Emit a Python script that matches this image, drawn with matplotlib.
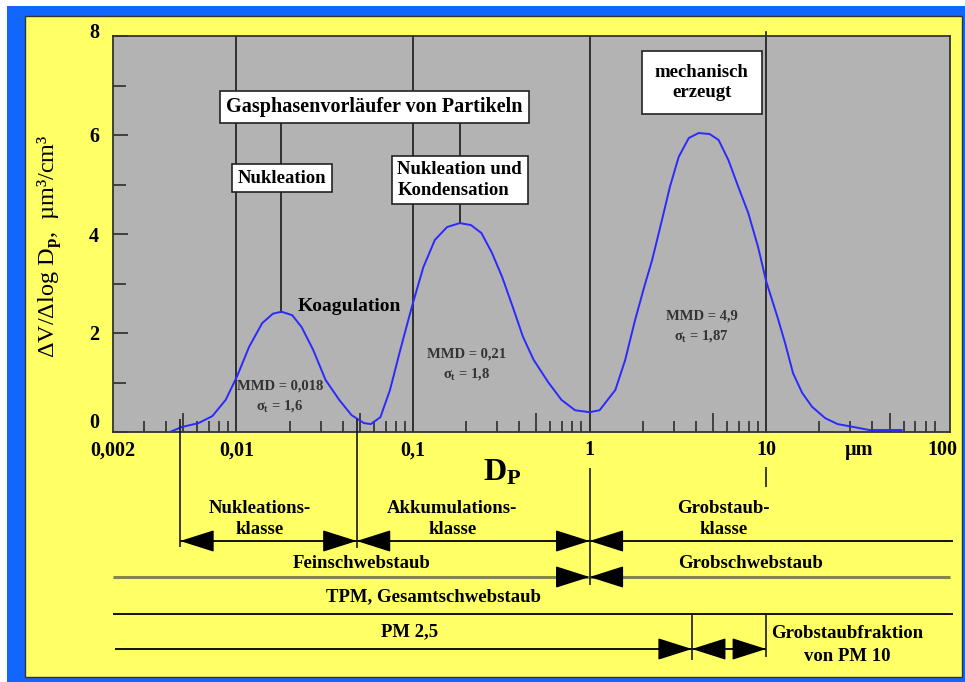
import matplotlib.pyplot as plt
import numpy as np
from matplotlib.patches import Rectangle
from matplotlib.ticker import FixedLocator, NullLocator
from matplotlib.transforms import ScaledTranslation

plt.rcParams['font.family'] = ['Liberation Serif', 'DejaVu Serif']
plt.rcParams['font.weight'] = 'bold'
plt.rcParams['mathtext.fontset'] = 'custom'
plt.rcParams['mathtext.rm'] = 'Liberation Serif:bold'
plt.rcParams['mathtext.it'] = 'Liberation Serif:bold'
plt.rcParams['mathtext.bf'] = 'Liberation Serif:bold'

# volume distribution: Dp in µm, dV/dlogDp in µm³/cm³
dp = [0.0042, 0.0049, 0.0061, 0.0073, 0.0087, 0.0101, 0.0118, 0.0140, 0.0161, 0.0180,
      0.0207, 0.0234, 0.0272, 0.0320, 0.0382, 0.0449, 0.0528, 0.0577, 0.0654, 0.0741,
      0.0839, 0.095, 0.100, 0.1145, 0.133, 0.156, 0.184, 0.213, 0.244, 0.280,
      0.320, 0.367, 0.420, 0.482, 0.582, 0.693, 0.827, 1.0, 1.14, 1.40,
      1.59, 1.81, 2.04, 2.26, 2.57, 2.85, 3.20, 3.65, 4.15, 4.78,
      5.38, 6.12, 6.96, 7.93, 9.0, 10.0, 11.6, 12.8, 14.2, 16.0,
      18.2, 21.6, 25.4, 31.4, 38.4, 58.5]
dv = [0.0, 0.10, 0.18, 0.32, 0.65, 1.13, 1.72, 2.20, 2.39, 2.43,
      2.36, 2.12, 1.66, 1.05, 0.65, 0.34, 0.18, 0.16, 0.30, 0.85,
      1.60, 2.32, 2.61, 3.33, 3.88, 4.14, 4.22, 4.18, 4.02, 3.62,
      3.13, 2.53, 1.92, 1.46, 1.01, 0.65, 0.44, 0.40, 0.44, 0.85,
      1.45, 2.26, 2.93, 3.47, 4.28, 4.95, 5.56, 5.94, 6.04, 6.02,
      5.90, 5.49, 4.95, 4.42, 3.74, 3.05, 2.32, 1.80, 1.19, 0.79,
      0.51, 0.28, 0.16, 0.10, 0.04, 0.04]

xlim = (0.002, 110)
decades = [0.01, 0.1, 1, 10]
xtick_pos = [0.002, 0.01, 0.1, 1, 10, 33.5, 100]
xtick_lab = ['0,002', '0,01', '0,1', '1', '10', 'µm', '100']
minor_x = [0.003, 0.004, 0.006, 0.007, 0.008, 0.009,
           0.02, 0.03, 0.04, 0.06, 0.07, 0.08, 0.09,
           0.2, 0.3, 0.4, 0.6, 0.7, 0.8, 0.9,
           2, 3, 4, 6, 7, 8, 9,
           20, 30, 40, 60, 70, 80, 90]
long_x = [0.005, 0.05, 0.5, 5, 50]

# modes: label positions and parameters
mode_ranges = [(0.0, 0.06), (0.06, 1.0), (1.0, 100)]
mode_lab_x = [0.0176, 0.2, 4.3]
mode_lab_y = [0.71, 1.36, 2.12]
mode_mmd = ['0,018', '0,21', '4,9']
mode_sig = ['1,6', '1,8', '1,87']

# class boundaries for the lower scheme
nuk_left, nuk_acc, fine_coarse, pm25, pm10 = 0.0048, 0.048, 1.0, 3.8, 10.0

fig = plt.figure(figsize=(9.65, 6.82), dpi=100)
fig.patch.set_facecolor('white')
fig.add_artist(Rectangle((7/965, 0), 1, 1 - 6/682, transform=fig.transFigure,
                         fc='#1166ff', ec='none', zorder=-10))
fig.add_artist(Rectangle((25/965, 5/682), 937/965, 661/682, transform=fig.transFigure,
                         fc='#ffff66', ec='#333333', lw=1, zorder=-9))

ax = fig.add_axes([113/965, 1 - 432/682, 837/965, 396/682])
ax.set_facecolor('#b3b3b3')
for s in ax.spines.values():
    s.set_color('#333333')
    s.set_linewidth(1.3)
ax.set_xscale('log')
ax.set_xlim(xlim)
ax.set_ylim(0, 8)

ax.xaxis.set_major_locator(FixedLocator(xtick_pos))
ax.set_xticklabels(xtick_lab)
ax.xaxis.set_minor_locator(FixedLocator(minor_x))
ax.tick_params(axis='x', which='major', length=0, pad=6, labelsize=14.5)
ax.tick_params(axis='x', which='minor', direction='in', length=8, width=1.1, color='#222222')
sec = ax.secondary_xaxis('bottom')
sec.xaxis.set_major_locator(FixedLocator(long_x))
sec.xaxis.set_minor_locator(NullLocator())
sec.tick_params(which='major', direction='in', length=14, width=1.1, color='#222222', labelbottom=False)
sec.spines['bottom'].set_visible(False)

ax.set_yticks([0, 2, 4, 6, 8])
ax.set_yticks([1, 3, 5, 7], minor=True)
ax.tick_params(axis='y', which='major', direction='in', length=11, width=1.1, pad=10, labelsize=14.5, color='#222222')
ax.tick_params(axis='y', which='minor', direction='in', length=9, width=1.1, color='#222222')
ylabs = ax.get_yticklabels()
ylabs[0].set_transform(ylabs[0].get_transform() + ScaledTranslation(0, 0.12, fig.dpi_scale_trans))
ylabs[-1].set_transform(ylabs[-1].get_transform() + ScaledTranslation(0, 0.05, fig.dpi_scale_trans))
ax.set_ylabel('ΔV/Δlog D$_p$,  µm³/cm³', fontsize=17.5)
ax.yaxis.set_label_coords(-0.059, 0.47)

for d in decades:
    ax.axvline(d, color='#1a1a1a', lw=1.2, zorder=2, ymax=1.01 if d == 10 else 1, clip_on=(d != 10))

ax.plot(dp, dv, color='#2a2aff', lw=1.4, zorder=3)

# pointer lines from the boxes down to the peaks
dp_a = np.array(dp)
dv_a = np.array(dv)
peaks = []
for lo, hi in mode_ranges:
    m = (dp_a > lo) & (dp_a < hi)
    i = np.argmax(dv_a[m])
    peaks.append((dp_a[m][i], dv_a[m][i]))
for px, py in peaks[:2]:
    ax.plot([px, px], [6.5, py], color='#1a1a1a', lw=1.2, zorder=2)

box = dict(boxstyle='square,pad=0.3', fc='white', ec='#222222', lw=1.2)
ax.text(0.0606, 6.56, 'Gasphasenvorläufer von Partikeln', fontsize=14.5, ha='center', va='center', bbox=box, zorder=5)
ax.text(0.0182, 5.13, 'Nukleation', fontsize=13.5, ha='center', va='center', bbox=box, zorder=5)
ax.text(0.184, 5.09, 'Nukleation und\nKondensation', fontsize=13.5, ha='center', va='center',
        multialignment='left', linespacing=1.25, bbox=box, zorder=5)
ax.text(4.31, 7.06, 'mechanisch\nerzeugt', fontsize=13.5, ha='center', va='center', linespacing=1.25,
        bbox=dict(boxstyle='square,pad=0.7', fc='white', ec='#222222', lw=1.2), zorder=5)
ax.text(0.0438, 2.53, 'Koagulation', fontsize=14, ha='center', va='center', zorder=5)

for x, y, mmd, sg in zip(mode_lab_x, mode_lab_y, mode_mmd, mode_sig):
    ax.text(x, y, 'MMD = ' + mmd + '\n$\\sigma_t$ = ' + sg, fontsize=10.5, ha='center', va='center',
            color='#333333', linespacing=1.5, zorder=4)

fig.text(502/965, 1 - 473/682, 'D$_P$', fontsize=23, ha='center', va='center')

# lower scheme with size classes
ax2 = fig.add_axes([113/965, 0, 837/965, 250/682])
ax2.set_xscale('log')
ax2.set_xlim(xlim)
ax2.set_ylim(682, 432)
ax2.axis('off')

ax2.hlines(541, nuk_left, 115, color='black', lw=1.3, clip_on=False)
ax2.hlines(577, xlim[0], xlim[1], color='#85854a', lw=2.2, clip_on=False)
ax2.hlines(614, xlim[0], 115, color='black', lw=1.3, clip_on=False)
ax2.hlines(649, 0.00205, pm10, color='black', lw=1.3, clip_on=False)

ax2.vlines(nuk_left, 419, 547, color='#1a1a1a', lw=1.2, clip_on=False)
ax2.vlines(nuk_acc, 419, 548, color='#1a1a1a', lw=1.2, clip_on=False)
ax2.vlines(fine_coarse, 468, 585, color='#1a1a1a', lw=1.2, clip_on=False)
ax2.vlines(pm10, 467, 487, color='#1a1a1a', lw=1.2, clip_on=False)
ax2.vlines(pm25, 614, 660, color='#1a1a1a', lw=1.2, clip_on=False)
ax2.vlines(pm10, 614, 657, color='#1a1a1a', lw=1.2, clip_on=False)


def head(x, y, d):
    ax2.annotate('', xy=(x, y), xytext=(-d * 22, 0), textcoords='offset points',
                 annotation_clip=False,
                 arrowprops=dict(arrowstyle='-|>,head_length=1.1,head_width=0.35', mutation_scale=20,
                                 fc='black', ec='black', lw=1, shrinkA=0, shrinkB=0))


heads = [(nuk_left, 541, -1), (nuk_acc, 541, 1), (nuk_acc, 541, -1),
         (fine_coarse, 541, 1), (fine_coarse, 541, -1),
         (fine_coarse, 577, 1), (fine_coarse, 577, -1),
         (pm25, 649, 1), (pm25, 649, -1), (pm10, 649, 1)]
for x, y, d in heads:
    head(x, y, d)

lab_kw = dict(fontsize=13.5, ha='center', va='center', linespacing=1.25)
ax2.text(0.0135, 519, 'Nukleations-\nklasse', **lab_kw)
ax2.text(0.167, 519, 'Akkumulations-\nklasse', **lab_kw)
ax2.text(5.74, 519, 'Grobstaub-\nklasse', **lab_kw)
ax2.text(0.0509, 563, 'Feinschwebstaub', **lab_kw)
ax2.text(8.12, 563, 'Grobschwebstaub', **lab_kw)
ax2.text(0.131, 597, 'TPM, Gesamtschwebstaub', **lab_kw)
ax2.text(0.096, 632, 'PM 2,5', **lab_kw)
ax2.text(28.8, 645, 'Grobstaubfraktion\nvon PM 10', fontsize=13.5, ha='center', va='center', linespacing=1.45)

fig.savefig('out.png', dpi=100)
